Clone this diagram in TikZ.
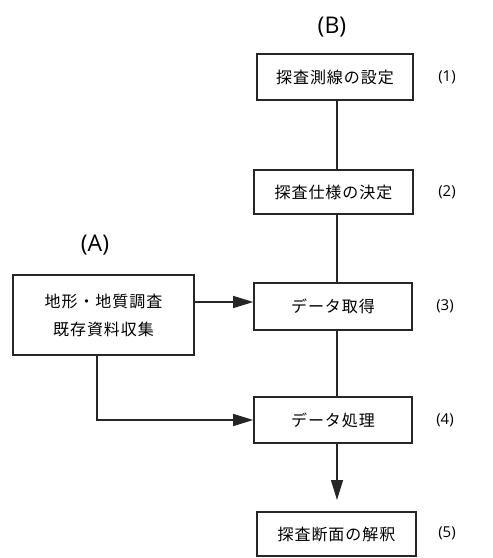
\documentclass[tikz,border=0pt]{standalone}
\usepackage{fontspec}
\setmainfont[LetterSpace=6]{Noto Sans CJK JP}
\newfontfamily\labfont{Open Sans}
\usetikzlibrary{arrows.meta}
\begin{document}
\begin{tikzpicture}[x=1pt,y=-1pt,
  box/.style={draw=black!85,line width=1.6pt,inner sep=0pt,font=\fontsize{16}{22}\selectfont},
  conn/.style={draw=black!85,line width=1.4pt},
  arr/.style={conn,-{Triangle[length=20pt,width=12pt]}},
  num/.style={font=\labfont\fontsize{15}{16}\selectfont},
  big/.style={font=\labfont\fontsize{23}{24}\selectfont}]
\useasboundingbox (0,0) rectangle (493,558);
\node[box,minimum width=156pt,minimum height=46pt] (b1) at (335,77) {探査測線の設定};
\node[box,minimum width=159pt,minimum height=44pt] (b2) at (333.5,192) {探査仕様の決定};
\node[box,minimum width=158pt,minimum height=47pt] (b3) at (333,306.5) {データ取得};
\node[box,minimum width=158pt,minimum height=46pt] (b4) at (333,420) {データ処理};
\node[box,minimum width=159pt,minimum height=44pt] (b5) at (336.5,534) {探査断面の解釈};
\node[box,minimum width=181pt,minimum height=80pt,align=center,font=\fontsize{16}{28}\selectfont] (a) at (103.5,315) {地形・地質調査\\既存資料収集};
\node[big] (lB) at (332,27) {(B)};
\node[big] (lA) at (95,245) {(A)};
\node[num] (n1) at (447,77) {(1)};
\node[num] (n2) at (447,192) {(2)};
\node[num] (n3) at (445,306) {(3)};
\node[num] (n4) at (445,420) {(4)};
\node[num] (n5) at (447,533) {(5)};
\coordinate (t5) at (337,500);
\draw[conn] (b1.south -| 337,0) -- (b2.north -| 337,0);
\draw[conn] (b2.south -| 337,0) -- (b3.north -| 337,0);
\draw[conn] (b3.south -| 337,0) -- (b4.north -| 337,0);
\draw[arr] (b4.south -| 337,0) -- (t5);
\draw[arr] (a.east |- 0,302) -- (b3.west |- 0,302);
\draw[arr] (a.south -| 97,0) |- (b4.west);
\end{tikzpicture}
\end{document}
